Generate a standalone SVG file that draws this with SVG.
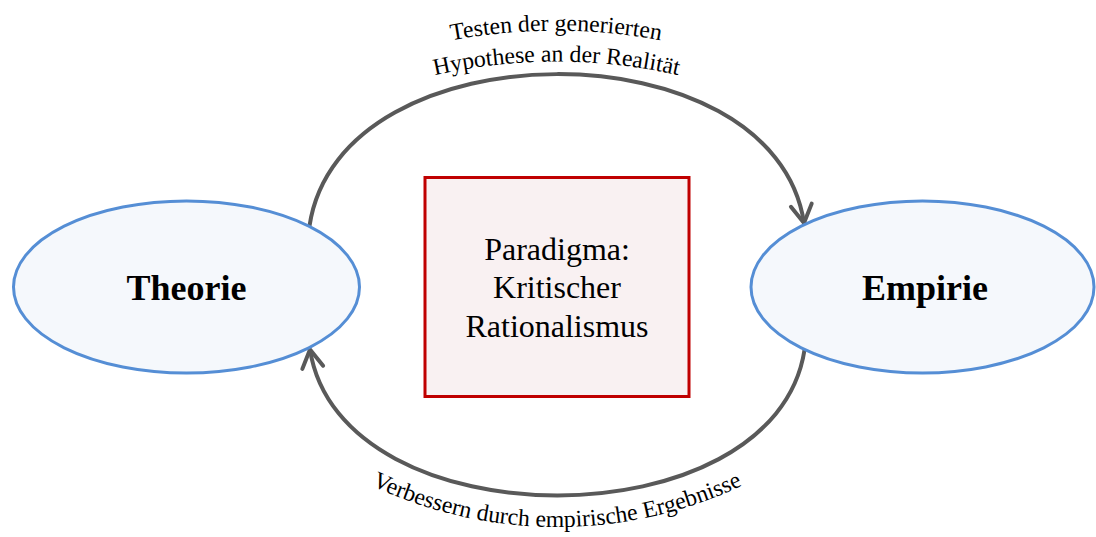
<svg xmlns="http://www.w3.org/2000/svg" width="1096" height="537" viewBox="0 0 1096 537">
  <style>
    .ell { fill: #f5f8fc; stroke: #558ed5; stroke-width: 3; }
    .box { fill: #f9f1f2; stroke: #c00000; stroke-width: 3; }
    .main { font-family: "Liberation Serif", "Times New Roman", serif; font-size: 36px; font-weight: bold; fill: #000; text-anchor: middle; }
    .boxtxt { font-family: "Liberation Serif", "Times New Roman", serif; font-size: 32px; fill: #000; text-anchor: middle; }
    .edge { fill: none; stroke: #595959; stroke-width: 4; }
    .lbl { font-family: "Liberation Serif", "Times New Roman", serif; font-size: 23.7px; fill: #000; text-anchor: middle; }
  </style>
  <defs>
    <marker id="chev" markerUnits="userSpaceOnUse" markerWidth="30" markerHeight="30" refX="0" refY="0" viewBox="-22 -15 30 30" orient="auto" overflow="visible">
      <path d="M -18 -10.5 L 0 0 L -18 10.5" fill="none" stroke="#595959" stroke-width="4" stroke-linecap="round" stroke-linejoin="round"/>
    </marker>
    <path id="tp1" d="M 266 108.5 A 579.5 579.5 0 0 1 846 108.5"/>
    <path id="tp2" d="M 282 135.1 A 549 549 0 0 1 831 135.1"/>
    <path id="tp3" d="M 307.5 448.3 A 435 435 0 0 0 806.5 448.3"/>
  </defs>

  <g id="connectors">
    <path class="edge" d="M 309.5 226 C 339.5 24, 774 24, 804 223" marker-end="url(#chev)"/>
    <path class="edge" d="M 804.5 350 C 774.5 544, 340 544, 310 349.5" marker-end="url(#chev)"/>
    <text class="lbl"><textPath href="#tp1" startOffset="50%">Testen der generierten</textPath></text>
    <text class="lbl"><textPath href="#tp2" startOffset="50%">Hypothese an der Realität</textPath></text>
    <text class="lbl"><textPath href="#tp3" startOffset="50%">Verbessern durch empirische Ergebnisse</textPath></text>
  </g>

  <g id="node-theorie">
    <ellipse class="ell" cx="186.5" cy="287" rx="173" ry="86"/>
    <text class="main" x="186.5" y="299.5">Theorie</text>
  </g>

  <g id="node-empirie">
    <ellipse class="ell" cx="922.5" cy="287" rx="171.5" ry="86"/>
    <text class="main" x="925" y="299.5">Empirie</text>
  </g>

  <g id="node-paradigma">
    <rect class="box" x="425" y="177.5" width="264" height="219"/>
    <text class="boxtxt" x="557" y="259.5">Paradigma:</text>
    <text class="boxtxt" x="557" y="298">Kritischer</text>
    <text class="boxtxt" x="557" y="336.7">Rationalismus</text>
  </g>
</svg>
